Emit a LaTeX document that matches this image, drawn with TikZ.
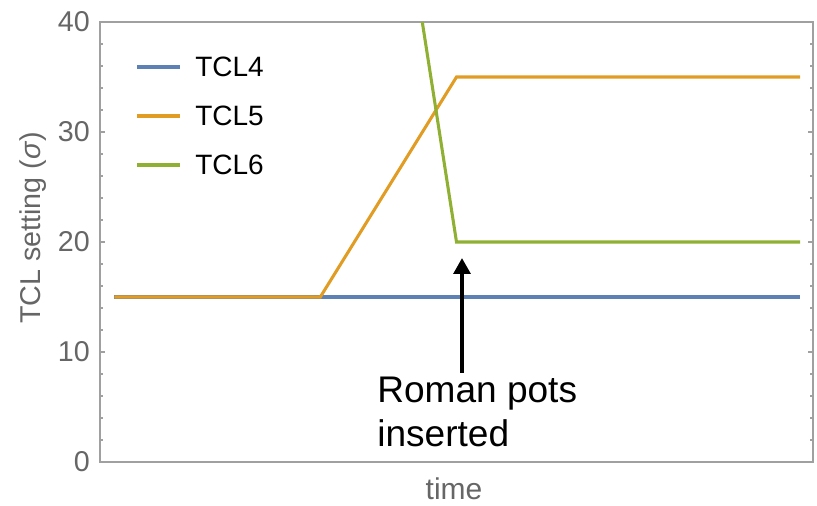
\documentclass[tikz,border=0pt]{standalone}
\usepackage{fontspec}
\setmainfont{Liberation Sans}
\usepackage{xcolor}
\usepackage{tikz}
\usetikzlibrary{arrows.meta}

\definecolor{tclblue}{HTML}{5E81B5}
\definecolor{tclorange}{HTML}{E19C24}
\definecolor{tclgreen}{HTML}{8FB032}
\definecolor{framegray}{HTML}{A0A0A0}
\definecolor{labelgray}{HTML}{666666}

\begin{document}
\begin{tikzpicture}[
  x=0.75pt, y=0.75pt,
  frame/.style={draw=framegray, line width=1.1pt},
  ticklabel/.style={text=labelgray, inner sep=0pt, font=\fontsize{21.5}{24}\selectfont},
  axislabel/.style={text=labelgray, inner sep=0pt, font=\fontsize{21.5}{24}\selectfont},
  legendtext/.style={anchor=west, inner sep=0pt, font=\fontsize{21}{24}\selectfont},
  curve/.style={line width=2.3pt, line join=miter},
  marker/.style={-{Triangle[length=12pt, width=12.5pt]}, line width=3.4pt}
]
  \useasboundingbox (0,0) rectangle (817,506);

  % plot frame
  \draw[frame] (100,44) rectangle (813,484);

  \begin{scope}[shift={(100,44)}, x=53.475pt, y=8.25pt]
    % ticks on both vertical axes
    \foreach \v in {0,2,...,40} {
      \pgfmathsetmacro{\len}{mod(\v,10)==0 ? 0.075 : 0.04}
      \draw[framegray, line width=0.8pt] (0,\v) -- ++(\len,0);
      \draw[framegray, line width=0.8pt] (10,\v) -- ++(-\len,0);
    }
    \foreach \v in {0,10,20,30,40}
      \node[ticklabel, anchor=east] (y\v) at (-0.14,\v) {\v};

    % collimator settings
    \draw[curve, tclblue] (0.2,15) -- (9.82,15);
    \draw[curve, tclorange] (0.2,15) -- (3.09,15) -- (5.0,35) -- (9.82,35);
    \draw[curve, tclgreen] (4.52,40) -- (5.0,20) -- (9.82,20);
  \end{scope}

  % axis labels
  \node[axislabel, rotate=90] (ylab) at (33,278) {TCL setting (\textit{σ})};
  \node[axislabel, font=\fontsize{22.5}{26}\selectfont] (xlab) at (454,17) {time};

  % legend
  \foreach \name/\col/\yy in {TCL4/tclblue/439, TCL5/tclorange/390, TCL6/tclgreen/341} {
    \draw[curve, \col] (137,\yy) -- (180,\yy);
    \node[legendtext] (leg\name) at (195,\yy) {\name};
  }

  % annotation
  \node[anchor=north west, inner sep=0pt, align=left,
        font=\fontsize{27.8}{32.5}\selectfont] (pots) at (377,129)
        {Roman pots\\inserted};
  \coordinate (tip) at (462,248);
  \draw[marker] (pots.north -| tip) ++(0,4) -- (tip);
\end{tikzpicture}
\end{document}
